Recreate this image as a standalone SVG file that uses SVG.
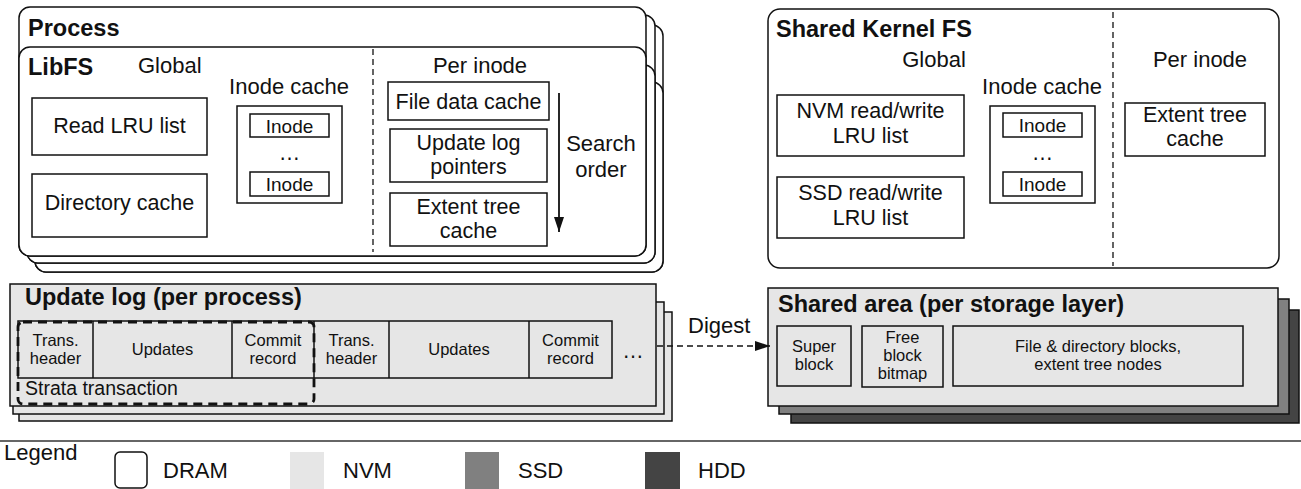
<svg xmlns="http://www.w3.org/2000/svg" width="1301" height="489" viewBox="0 0 1301 489">
  <style>
    text { font-family: "Liberation Sans", Arial, sans-serif; fill: #111; }
    .t { font-size: 21.5px; }
    .h { font-size: 22px; }
    .tb { font-size: 23.5px; font-weight: bold; }
    .i { font-size: 19px; }
    .s { font-size: 16.5px; }
    .m { text-anchor: middle; }
    .dram { fill: #fff; stroke: #111; stroke-width: 1.5; }
    .box { fill: #fff; stroke: #111; stroke-width: 1.5; }
    .nvm { fill: #e6e6e6; stroke: #111; stroke-width: 1.5; }
    .ssd { fill: #808080; stroke: #111; stroke-width: 1.5; }
    .hdd { fill: #444; stroke: #111; stroke-width: 1.5; }
    .cell { fill: none; stroke: #111; stroke-width: 1.5; }
    .sep { stroke: #111; stroke-width: 1.3; stroke-dasharray: 6 4; fill: none; }
  </style>
  <defs>
    <marker id="arrowHead" viewBox="0 0 15 10" refX="15" refY="5" markerWidth="15" markerHeight="10" markerUnits="userSpaceOnUse" orient="auto">
      <path d="M0,0 L15,5 L0,10 z" fill="#111"/>
    </marker>
  </defs>

  <!-- Process stack (DRAM) -->
  <g id="process">
    <rect class="dram" x="35" y="25" width="628" height="247" rx="11"/>
    <rect class="dram" x="35" y="82" width="628" height="190" rx="11"/>
    <rect class="dram" x="27" y="15" width="628" height="248" rx="11"/>
    <rect class="dram" x="27" y="65" width="628" height="198" rx="11"/>
    <rect class="dram" x="19" y="7" width="627" height="249" rx="11"/>
    <text class="tb" x="28" y="36">Process</text>
  </g>

  <g id="libfs">
    <rect class="dram" x="19" y="47" width="627" height="209" rx="11"/>
    <text class="tb" x="28" y="75">LibFS</text>
    <text class="h" x="138" y="73">Global</text>
    <line class="sep" x1="373" y1="49" x2="373" y2="252"/>
    <text class="h m" x="480" y="73">Per inode</text>
  </g>

  <g id="read-lru">
    <rect class="box" x="32" y="98" width="175" height="57"/>
    <text class="t m" x="119.5" y="133">Read LRU list</text>
  </g>
  <g id="directory-cache">
    <rect class="box" x="32" y="174" width="175" height="63"/>
    <text class="t m" x="119.5" y="210">Directory cache</text>
  </g>

  <g id="libfs-inode-cache">
    <text class="h m" x="289" y="94">Inode cache</text>
    <rect class="box" x="237" y="106" width="105" height="97"/>
    <rect class="box" x="250" y="114" width="79" height="23"/>
    <text class="i m" x="289.5" y="132.5">Inode</text>
    <text class="t m" x="289.5" y="160">…</text>
    <rect class="box" x="250" y="172" width="79" height="24"/>
    <text class="i m" x="289.5" y="191">Inode</text>
  </g>

  <g id="file-data-cache">
    <rect class="box" x="388" y="82" width="161" height="38"/>
    <text class="t m" x="468.5" y="109">File data cache</text>
  </g>
  <g id="update-log-pointers">
    <rect class="box" x="390" y="129" width="157" height="53"/>
    <text class="t m" x="468.5" y="150">Update log</text>
    <text class="t m" x="468.5" y="174">pointers</text>
  </g>
  <g id="extent-tree-cache-libfs">
    <rect class="box" x="390" y="193" width="157" height="53"/>
    <text class="t m" x="468.5" y="214">Extent tree</text>
    <text class="t m" x="468.5" y="238">cache</text>
  </g>
  <g id="search-order">
    <text class="h m" x="601" y="151">Search</text>
    <text class="h m" x="601" y="177">order</text>
  </g>

  <!-- Shared kernel file system (DRAM) -->
  <g id="kernfs">
    <rect class="dram" x="768" y="9" width="511" height="259" rx="12"/>
    <text class="tb" x="776" y="37">Shared Kernel FS</text>
    <text class="h m" x="934" y="67">Global</text>
    <line class="sep" x1="1113" y1="12" x2="1113" y2="266"/>
    <text class="h m" x="1200" y="67">Per inode</text>
  </g>
  <g id="nvm-lru">
    <rect class="box" x="777" y="95" width="187" height="61"/>
    <text class="t m" x="870.5" y="118">NVM read/write</text>
    <text class="t m" x="870.5" y="143">LRU list</text>
  </g>
  <g id="ssd-lru">
    <rect class="box" x="777" y="177" width="187" height="61"/>
    <text class="t m" x="870.5" y="200">SSD read/write</text>
    <text class="t m" x="870.5" y="225">LRU list</text>
  </g>
  <g id="kernfs-inode-cache">
    <text class="h m" x="1042" y="94">Inode cache</text>
    <rect class="box" x="990" y="106" width="105" height="97"/>
    <rect class="box" x="1003" y="113" width="79" height="24"/>
    <text class="i m" x="1042.5" y="132">Inode</text>
    <text class="t m" x="1042.5" y="160">…</text>
    <rect class="box" x="1003" y="172" width="79" height="24"/>
    <text class="i m" x="1042.5" y="191">Inode</text>
  </g>
  <g id="extent-tree-cache-kernfs">
    <rect class="box" x="1125" y="103" width="140" height="53"/>
    <text class="t m" x="1195" y="122">Extent tree</text>
    <text class="t m" x="1195" y="146">cache</text>
  </g>

  <!-- Update log stack (NVM) -->
  <g id="update-log">
    <rect class="nvm" x="19" y="312" width="653" height="109"/>
    <rect class="nvm" x="13" y="302" width="651" height="112"/>
    <rect class="nvm" x="10" y="284" width="646" height="122"/>
    <text class="tb" x="25" y="305">Update log (per process)</text>
    <rect class="cell" x="18" y="321" width="594" height="57"/>
    <line class="cell" x1="93" y1="321" x2="93" y2="378"/>
    <line class="cell" x1="232" y1="321" x2="232" y2="378"/>
    <line class="cell" x1="314" y1="321" x2="314" y2="378"/>
    <line class="cell" x1="389" y1="321" x2="389" y2="378"/>
    <line class="cell" x1="529" y1="321" x2="529" y2="378"/>
    <text class="s m" x="55.5" y="346">Trans.</text>
    <text class="s m" x="55.5" y="364">header</text>
    <text class="s m" x="162.5" y="355">Updates</text>
    <text class="s m" x="273" y="346">Commit</text>
    <text class="s m" x="273" y="364">record</text>
    <text class="s m" x="351.5" y="346">Trans.</text>
    <text class="s m" x="351.5" y="364">header</text>
    <text class="s m" x="459" y="355">Updates</text>
    <text class="s m" x="570.5" y="346">Commit</text>
    <text class="s m" x="570.5" y="364">record</text>
    <text class="t m" x="633" y="358">…</text>
  </g>
  <g id="strata-transaction">
    <rect x="18" y="322" width="296" height="82" rx="5" fill="none" stroke="#111" stroke-width="2.8" stroke-dasharray="9 6"/>
    <text x="25" y="395" style="font-size:19.5px">Strata transaction</text>
  </g>

  <!-- Shared area stack (NVM / SSD / HDD) -->
  <g id="shared-area">
    <rect class="hdd" x="791" y="310" width="508" height="113"/>
    <rect class="ssd" x="779" y="299" width="510" height="115"/>
    <rect class="nvm" x="768" y="288" width="510" height="118"/>
    <text class="tb" x="778" y="312">Shared area (per storage layer)</text>
  </g>
  <g id="super-block">
    <rect class="nvm" x="777" y="326" width="74" height="60"/>
    <text class="s m" x="814" y="352">Super</text>
    <text class="s m" x="814" y="370">block</text>
  </g>
  <g id="free-block-bitmap">
    <rect class="nvm" x="862" y="326" width="81" height="61"/>
    <text class="s m" x="902.5" y="343">Free</text>
    <text class="s m" x="902.5" y="361">block</text>
    <text class="s m" x="902.5" y="379">bitmap</text>
  </g>
  <g id="file-dir-blocks">
    <rect class="nvm" x="953" y="326" width="290" height="60"/>
    <text class="s m" x="1098" y="352">File &amp; directory blocks,</text>
    <text class="s m" x="1098" y="370">extent tree nodes</text>
  </g>

  <!-- Connectors -->
  <g id="connectors">
    <line x1="559" y1="93" x2="559" y2="232" stroke="#111" stroke-width="1.8" marker-end="url(#arrowHead)"/>
    <line x1="657" y1="346" x2="770" y2="346" stroke="#111" stroke-width="1.5" stroke-dasharray="6 4" marker-end="url(#arrowHead)"/>
    <text class="h" x="688" y="333">Digest</text>
  </g>

  <!-- Legend -->
  <g id="legend">
    <line x1="0" y1="441" x2="1301" y2="441" stroke="#333" stroke-width="1.5"/>
    <text class="h" x="4" y="460">Legend</text>
    <rect class="dram" x="115" y="452" width="32" height="36" rx="5"/>
    <text class="h" x="163" y="478">DRAM</text>
    <rect x="290" y="452" width="34" height="38" fill="#e6e6e6"/>
    <text class="h" x="343" y="478">NVM</text>
    <rect x="465" y="452" width="34" height="38" fill="#808080"/>
    <text class="h" x="518" y="478">SSD</text>
    <rect x="645" y="452" width="35" height="38" fill="#444"/>
    <text class="h" x="698" y="478">HDD</text>
  </g>
</svg>
